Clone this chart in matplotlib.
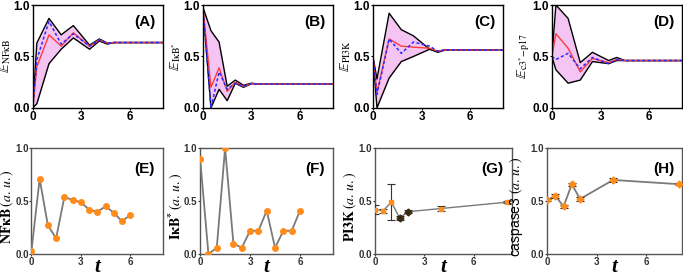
import numpy as np
import matplotlib
matplotlib.use('Agg')
import matplotlib.pyplot as plt

plt.rcParams['font.family'] = ['Liberation Sans', 'DejaVu Sans']
plt.rcParams['mathtext.fontset'] = 'stix'

# ---- top row: simulated expectations (upper / lower bounds, red, blue dashed)
tA = [0, 0.25, 1.0, 1.75, 2.5, 3.5, 4.1, 4.6, 5.0, 8.0]
A_up = [0.0, 0.63, 0.87, 0.71, 0.80, 0.61, 0.67, 0.63, 0.635, 0.635]
A_lo = [0.0, 0.04, 0.43, 0.57, 0.68, 0.57, 0.65, 0.62, 0.635, 0.635]
A_red = [0.0, 0.40, 0.71, 0.60, 0.73, 0.60, 0.66, 0.63, 0.635, 0.635]
A_blue = [0.0, 0.47, 0.84, 0.62, 0.72, 0.60, 0.66, 0.63, 0.635, 0.635]

tB = [0, 0.5, 1.0, 1.5, 2.0, 2.5, 3.0, 3.5, 8.0]
B_up = [0.98, 0.75, 0.64, 0.21, 0.27, 0.22, 0.24, 0.23, 0.23]
B_lo = [0.98, 0.0, 0.18, 0.07, 0.24, 0.20, 0.235, 0.23, 0.23]
B_red = [0.98, 0.20, 0.39, 0.16, 0.25, 0.21, 0.235, 0.23, 0.23]
B_blue = [0.98, 0.0, 0.35, 0.18, 0.24, 0.21, 0.235, 0.23, 0.23]

tC = [0, 0.25, 1.0, 1.75, 2.5, 3.5, 4.0, 4.5, 8.0]
C_up = [0.5, 0.28, 0.92, 0.76, 0.70, 0.57, 0.55, 0.565, 0.56]
C_lo = [0.5, 0.0, 0.29, 0.45, 0.50, 0.57, 0.54, 0.565, 0.56]
C_red = [0.5, 0.15, 0.67, 0.60, 0.59, 0.58, 0.55, 0.565, 0.56]
C_blue = [0.5, 0.13, 0.67, 0.53, 0.64, 0.60, 0.55, 0.565, 0.56]

tD = [0, 0.25, 1.0, 1.75, 2.5, 3.5, 4.0, 4.5, 8.0]
D_up = [0.5, 1.0, 0.87, 0.44, 0.54, 0.46, 0.49, 0.46, 0.46]
D_lo = [0.5, 0.37, 0.24, 0.27, 0.45, 0.43, 0.46, 0.46, 0.46]
D_red = [0.5, 0.72, 0.58, 0.35, 0.48, 0.44, 0.47, 0.46, 0.46]
D_blue = [0.5, 0.47, 0.53, 0.38, 0.49, 0.43, 0.47, 0.46, 0.46]

top_ylabels = [r'$\mathbb{E}_{\mathrm{NF\kappa B}}$',
               r'$\mathbb{E}_{\mathrm{I\kappa B^{*}}}$',
               r'$\mathbb{E}_{\mathrm{PI3K}}$',
               r'$\mathbb{E}_{\mathrm{c3^{*}\!-\!p17}}$']

# ---- bottom row: measured data
tE = [0, 0.5, 1.0, 1.5, 2.0, 2.5, 3.0, 3.5, 4.0, 4.5, 5.0, 5.5, 6.0]
E = [0.03, 0.71, 0.27, 0.15, 0.54, 0.51, 0.49, 0.42, 0.40, 0.45, 0.39, 0.31, 0.37]
F = [0.90, 0.0, 0.06, 1.0, 0.10, 0.06, 0.22, 0.22, 0.41, 0.06, 0.22, 0.22, 0.41]

tG = [0, 0.5, 1.0, 1.5, 2.0, 4.0, 8.0]
G = [0.42, 0.41, 0.49, 0.34, 0.40, 0.43, 0.49]
G_err = [0.04, 0.02, 0.17, 0.015, 0.015, 0.02, 0.01]
G_dark = [False, False, False, True, True, False, False]
H = [0.51, 0.55, 0.45, 0.66, 0.52, 0.70, 0.66]
H_err = [0.01, 0.02, 0.015, 0.015, 0.015, 0.02, 0.01]

bottom_ylabels = [r'$\mathbf{NF\kappa B}\,(\mathit{a.\,u.})$',
                  r'$\mathbf{I\kappa B^{*}}\,(\mathit{a.\,u.})$',
                  r'$\mathbf{PI3K}\,(\mathit{a.\,u.})$',
                  r'caspase3 $(\mathit{a.\,u.})$']

fig = plt.figure(figsize=(6.83, 2.78), dpi=100)

top_lefts = [0.048, 0.297, 0.546, 0.808]
bot_lefts = [0.046, 0.293, 0.549, 0.801]
bot_widths = [0.193, 0.195, 0.20, 0.198]
bot_label_x = [-0.115, -0.115, -0.12, -0.16]

pink = '#f4c4f2'
red = '#ff3b3b'
blue = '#2a2aff'
orange = '#ff8c1a'
grey = '#7a7a7a'

top_data = [(tA, A_up, A_lo, A_red, A_blue), (tB, B_up, B_lo, B_red, B_blue),
            (tC, C_up, C_lo, C_red, C_blue), (tD, D_up, D_lo, D_red, D_blue)]

for i, (t, up, lo, r, b) in enumerate(top_data):
    ax = fig.add_axes([top_lefts[i], 0.612, 0.19, 0.37])
    ax.fill_between(t, lo, up, color=pink, lw=0)
    ax.plot(t, up, color='black', lw=1.0)
    ax.plot(t, lo, color='black', lw=1.0)
    ax.plot(t, r, color=red, lw=1.0)
    ax.plot(t, b, color=blue, lw=1.1, ls=(0, (2, 1.5)))
    ax.set_xlim(0, 8)
    ax.set_ylim(0, 1)
    ax.set_xticks([0, 3, 6])
    ax.set_yticks([0, 0.5, 1.0])
    ax.set_yticklabels(['0.0', '0.5', '1.0'])
    ax.tick_params(labelsize=8.5, length=1.5, width=0.8, pad=0.5)
    for lab in ax.get_xticklabels() + ax.get_yticklabels():
        lab.set_fontweight('bold')
    for s in ax.spines.values():
        s.set_linewidth(1.0)
    ax.set_ylabel(top_ylabels[i], fontsize=10)
    ax.yaxis.set_label_coords(-0.15, 0.5)
    ax.text(0.86, 0.83, '(%s)' % 'ABCD'[i], transform=ax.transAxes,
            ha='center', va='center', fontsize=11, fontweight='bold')

for i in range(4):
    ax = fig.add_axes([bot_lefts[i], 0.086, bot_widths[i], 0.381])
    if i < 2:
        y = E if i == 0 else F
        ax.plot(tE, y, color=grey, lw=1.3, marker='o', ms=4,
                mfc=orange, mec=orange, zorder=3)
        ax.set_xlim(0, 8)
    elif i == 2:
        ax.plot(tG, G, color=grey, lw=1.0, zorder=2)
        ax.errorbar(tG, G, yerr=G_err, fmt='none', ecolor='#333333',
                    elinewidth=0.8, capsize=3, capthick=0.8, zorder=3)
        for tt, yy, dk in zip(tG, G, G_dark):
            if dk:
                ax.plot(tt, yy, marker='D', ms=3.5, mfc='#3a2a10', mec='#3a2a10', zorder=4)
            else:
                ax.plot(tt, yy, marker='s', ms=3.5, mfc=orange, mec=orange, zorder=4)
        ax.set_xlim(0, 8.3)
    else:
        ax.plot(tG, H, color=grey, lw=1.3, zorder=2)
        ax.errorbar(tG, H, yerr=H_err, fmt='none', ecolor='#222222',
                    elinewidth=0.8, capsize=3, capthick=0.8, zorder=3)
        ax.plot(tG, H, ls='none', marker='D', ms=3.5, mfc=orange, mec=orange, zorder=4)
        ax.set_xlim(0, 8.2)
    ax.set_ylim(0, 1)
    ax.set_xticks([0, 3, 6])
    ax.set_yticks([0, 0.5, 1.0])
    ax.set_yticklabels(['0.0', '0.5', '1.0'])
    ax.tick_params(labelsize=7, length=1.5, width=0.8, pad=0.5, colors='#333333')
    for lab in ax.get_xticklabels() + ax.get_yticklabels():
        lab.set_fontweight('bold')
    for s in ax.spines.values():
        s.set_linewidth(1.0)
        s.set_color('#555555')
    ax.set_ylabel(bottom_ylabels[i], fontsize=10)
    ax.yaxis.set_label_coords(bot_label_x[i], 0.45)
    ax.set_xlabel('t', fontsize=15, fontstyle='italic', fontweight='bold',
                  family='Liberation Serif')
    ax.xaxis.set_label_coords(0.5, -0.03)
    ax.text(0.86, 0.80, '(%s)' % 'EFGH'[i], transform=ax.transAxes,
            ha='center', va='center', fontsize=11, fontweight='bold')

fig.savefig('out.png', dpi=100)
